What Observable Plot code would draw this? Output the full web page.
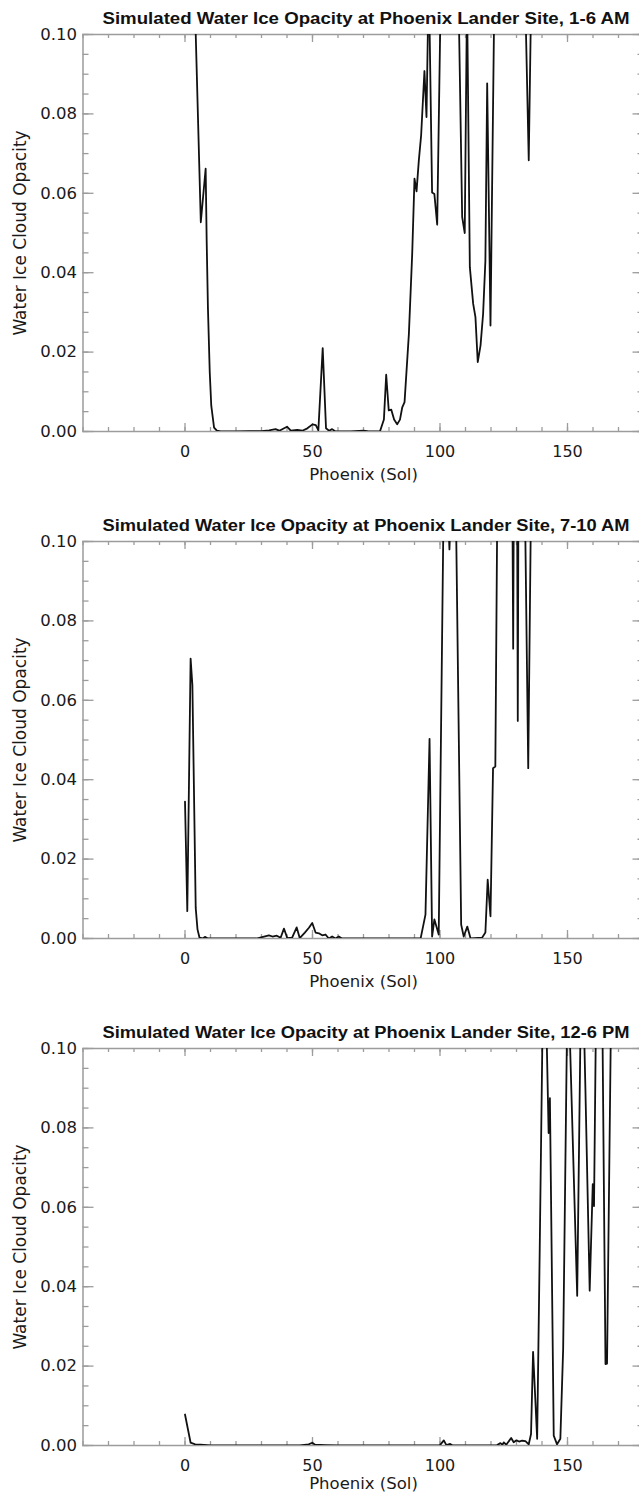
<!DOCTYPE html>
<html>
<head>
<meta charset="utf-8">
<script src="https://cdn.jsdelivr.net/npm/d3@7"></script>
<script src="https://cdn.jsdelivr.net/npm/@observablehq/plot@0.6"></script>
<style>
  html, body { margin: 0; padding: 0; background: #fff; overflow: hidden; width: 639px; }
  .panel { position: relative; width: 639px; overflow: hidden; }
  .panel svg { display: block; max-width: none; }
  .title { position: absolute; top: 11px; left: 366px; white-space: nowrap;
           font: bold 16px "Liberation Sans", Arial, sans-serif; line-height: 16px; color: #111;
           transform-origin: center; }
</style>
</head>
<body>
<div id="chart"></div>
<script>
// ---------- data ----------
const titles = [
  "Simulated Water Ice Opacity at Phoenix Lander Site, 1-6 AM",
  "Simulated Water Ice Opacity at Phoenix Lander Site, 7-10 AM",
  "Simulated Water Ice Opacity at Phoenix Lander Site, 12-6 PM"
];
const xLabel = "Phoenix (Sol)";
const yLabel = "Water Ice Cloud Opacity";

const xMajorTicks = [0, 50, 100, 150];
const xMinorTicks = [-40, -30, -20, -10, 0, 10, 20, 30, 40, 50, 60, 70, 80, 90, 100, 110, 120, 130, 140, 150, 160, 170, 180];
const yMajorTicks = [0.00, 0.02, 0.04, 0.06, 0.08, 0.10];
const yMinorTicks = [0.000, 0.005, 0.010, 0.015, 0.020, 0.025, 0.030, 0.035, 0.040, 0.045, 0.050,
                     0.055, 0.060, 0.065, 0.070, 0.075, 0.080, 0.085, 0.090, 0.095, 0.100];

// Panel 1: 1-6 AM
const sol1 = [0, 2, 4, 6.2, 8.1, 8.5, 9.0, 9.7, 10.3, 11.4, 12.5, 14, 20, 25, 30, 33, 35.5, 37, 40, 41.5,
  44, 46, 48, 50, 51.3, 52.3, 54, 55.3, 56.5, 57.7, 59, 65, 70, 72, 76.5, 78, 78.9, 79.9, 80.9, 82,
  83.2, 84.3, 85.2, 86.1, 87.8, 89.1, 90.0, 90.8, 91.7, 92.6, 93.9, 94.7, 95.6, 96.9, 97.8, 98.9, 101, 104, 107, 108.7,
  109.7, 110.6, 111.7, 113.0, 113.9, 114.8, 115.9, 116.9, 117.8, 118.5, 119.8, 121.5, 125, 130, 133.4, 134.8, 136, 138];
const opacity1 = [0.15, 0.13, 0.105, 0.0527, 0.0662, 0.048, 0.031, 0.015, 0.0065, 0.001, 0.0002, 0, 0, 0.0001, 0.0001, 0.0003, 0.0006, 0.0002, 0.0012, 0.0002,
  0.0004, 0.0002, 0.0008, 0.0018, 0.0016, 0.0003, 0.021, 0.0008, 0.0002, 0.0006, 0, 0, 0.0002, 0, 0.0001, 0.003, 0.0143, 0.0053, 0.0055, 0.003,
  0.0018, 0.003, 0.0061, 0.0074, 0.0246, 0.0448, 0.0637, 0.0605, 0.0683, 0.0746, 0.0908, 0.0792, 0.115, 0.0602, 0.0598, 0.0521, 0.14, 0.15, 0.12, 0.054,
  0.050, 0.11, 0.0414, 0.0322, 0.0288, 0.0175, 0.0217, 0.0296, 0.043, 0.0877, 0.0267, 0.12, 0.15, 0.14, 0.11, 0.0683, 0.12, 0.14];

// Panel 2: 7-10 AM
const sol2 = [0, 0.9, 2.2, 2.9, 4.2, 4.9, 5.7, 7, 7.8, 9, 20, 28, 31, 32.9, 34.3, 36, 37.5, 38.8, 40.1, 42,
  43.8, 45, 47, 48.6, 49.9, 51.2, 52.5, 53.8, 55.1, 56.4, 57.7, 59, 60.3, 61.6, 70, 80, 92.4, 94.3, 95.9, 96.9,
  97.8, 99.5, 101.6, 103.3, 103.7, 104.1, 106, 108.3, 109.3, 110.7, 112, 116.5, 117.8, 118.7, 119.8, 120.8, 121.7, 122.6, 127, 128.3,
  128.7, 129.0, 130.2, 130.5, 130.8, 133.3, 134.6, 135.7];
const opacity2 = [0.0345, 0.0069, 0.0705, 0.0638, 0.0077, 0.0023, 0.0002, 0, 0.0004, 0, 0, 0, 0.0005, 0.0008, 0.0005, 0.0007, 0.0002, 0.0025, 0.0001, 0.0002,
  0.0028, 0.0001, 0.0015, 0.0027, 0.0039, 0.0015, 0.0013, 0.0008, 0.001, 0, 0.0005, 0, 0.0005, 0, 0, 0, 0, 0.006, 0.0503, 0.0005,
  0.0048, 0.001, 0.12, 0.105, 0.098, 0.105, 0.12, 0.0035, 0.0005, 0.003, 0, 0.0002, 0.0015, 0.0148, 0.0056, 0.0429, 0.0433, 0.12, 0.15, 0.12,
  0.073, 0.12, 0.12, 0.0548, 0.12, 0.11, 0.0429, 0.11];

// Panel 3: 12-6 PM
const sol3 = [0, 2.2, 4, 6.1, 10, 30, 45, 48.5, 49.9, 51, 55, 60, 90, 100, 101.5, 102.5, 104, 105, 115, 122.4,
  123.7, 124.5, 125, 126, 127.9, 128.9, 130, 131, 132.2, 133.5, 134.8, 135.7, 136.5, 138.1, 139.1, 140.5, 141.6, 142.6, 143.1, 144.6,
  145.9, 147.2, 148.3, 149.9, 150.6, 153.8, 155.2, 156.3, 157.0, 158.7, 159.9, 160.4, 161.2, 163.5, 164.9, 165.5, 167.1];
const opacity3 = [0.0078, 0.0007, 0.0003, 0.0002, 0, 0, 0, 0.0003, 0.0007, 0.0002, 0.0001, 0, 0, 0.0001, 0.0013, 0.0001, 0.0004, 0, 0, 0.0001,
  0.0006, 0.0002, 0.0008, 0.0002, 0.0019, 0.0008, 0.0013, 0.0010, 0.0012, 0.0011, 0.0003, 0.0029, 0.0236, 0.0017, 0.049, 0.12, 0.11, 0.0787, 0.0875, 0.0025,
  0.0003, 0.0017, 0.0244, 0.11, 0.11, 0.0377, 0.11, 0.11, 0.0905, 0.039, 0.0658, 0.0603, 0.11, 0.12, 0.0205, 0.0206, 0.11];

// ---------- drawing ----------
const axisColor = "#9c9c9c";
const textColor = "#1a1a1a";
const fmt = d3.format(".2f");
const W = 645, ML = 82.5, MR = 1.5, MT = 34, PH = 397;
const PW = W - ML - MR;

function makePanel(sol, opacity, title, h, xTitleDy) {
  const data = sol.map((s, i) => ({sol: s, opacity: opacity[i]}));
  const tickStyle = {stroke: axisColor, strokeWidth: 1.3};
  const svg = Plot.plot({
    width: W,
    height: h,
    marginLeft: ML,
    marginRight: MR,
    marginTop: MT,
    marginBottom: h - MT - PH,
    style: {fontFamily: "'DejaVu Sans', sans-serif", fontSize: "16px", color: textColor, maxWidth: "none", background: "#fff"},
    x: {domain: [-40, 180]},
    y: {domain: [0, 0.1]},
    marks: [
      // inward ticks on all four sides
      Plot.tickX(xMinorTicks, {x: d => d, insetTop: PH - 4, ...tickStyle}),
      Plot.tickX(xMinorTicks, {x: d => d, insetBottom: PH - 4, ...tickStyle}),
      Plot.tickX(xMajorTicks, {x: d => d, insetTop: PH - 8, ...tickStyle}),
      Plot.tickX(xMajorTicks, {x: d => d, insetBottom: PH - 8, ...tickStyle}),
      Plot.tickY(yMinorTicks, {y: d => d, insetRight: PW - 6, ...tickStyle}),
      Plot.tickY(yMinorTicks, {y: d => d, insetLeft: PW - 6, ...tickStyle}),
      Plot.tickY(yMajorTicks, {y: d => d, insetRight: PW - 11, ...tickStyle}),
      Plot.tickY(yMajorTicks, {y: d => d, insetLeft: PW - 11, ...tickStyle}),
      // tick labels
      Plot.axisX(xMajorTicks, {anchor: "bottom", tickSize: 0, tickPadding: 14, fill: textColor, fontSize: 16, label: null}),
      Plot.axisY(yMajorTicks, {anchor: "left", tickSize: 0, tickPadding: 6, tickFormat: fmt, fill: textColor, fontSize: 16.5, label: null}),
      Plot.frame({stroke: axisColor, strokeWidth: 1.5}),
      Plot.lineY(data, {x: "sol", y: "opacity", stroke: "#111", strokeWidth: 1.8, clip: true}),
      Plot.text([xLabel], {frameAnchor: "bottom", lineAnchor: "middle", textAnchor: "middle", dy: xTitleDy, fontSize: 16.5, fill: textColor}),
      Plot.text([yLabel], {frameAnchor: "left", textAnchor: "middle", lineAnchor: "middle", dx: -62.5, rotate: -90, fontSize: 17, fill: textColor})
    ]
  });
  const div = document.createElement("div");
  div.className = "panel";
  div.style.height = h + "px";
  div.appendChild(svg);
  const t = document.createElement("div");
  t.className = "title";
  t.textContent = title;
  div.appendChild(t);
  document.getElementById("chart").appendChild(div);
  const w = t.getBoundingClientRect().width;
  t.style.transform = `translateX(-50%) scaleX(${527 / w})`;
}

makePanel(sol1, opacity1, titles[0], 507, 43);
makePanel(sol2, opacity2, titles[1], 507, 43);
makePanel(sol3, opacity3, titles[2], 481, 38.5);
</script>
</body>
</html>
